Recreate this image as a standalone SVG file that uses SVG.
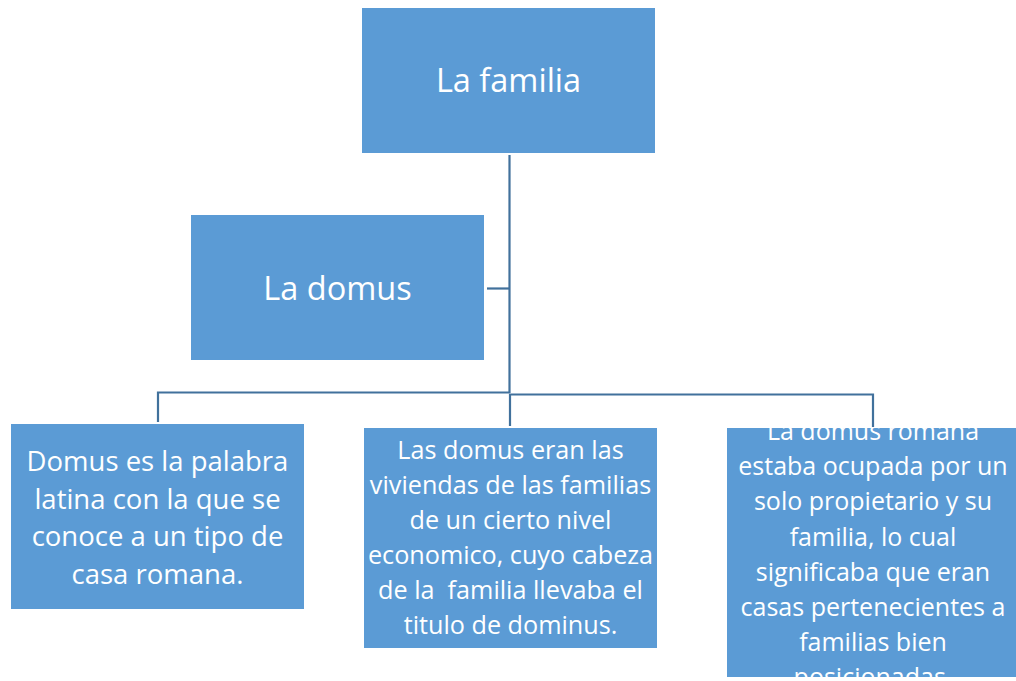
<svg xmlns="http://www.w3.org/2000/svg" width="1016" height="681" viewBox="0 0 1016 681">
<style>
.box{fill:#5B9BD5;}
.t{font-family:"Open Sans","Noto Sans","Liberation Sans",sans-serif;fill:#FFFFFF;text-anchor:middle;}
.big{font-size:32.5px;}
.b1{font-size:27.5px;}
.b2{font-size:25.2px;}
.b3{font-size:25px;}
.c{stroke:#41719C;stroke-width:2.2;fill:none;}
</style>
<defs>
<clipPath id="clip3"><rect x="727" y="428" width="289" height="249"/></clipPath>
</defs>
<rect width="1016" height="681" fill="#FFFFFF"/>
<g id="connectors">
<path class="c" d="M509.5 155 V393"/>
<path class="c" d="M487 288.5 H509.5"/>
<path class="c" d="M158 422 V392.5 H509.5"/>
<path class="c" d="M510 426 V394.5 H873 V427"/>
</g>
<g id="node-familia">
<rect class="box" x="362" y="8" width="293" height="145"/>
<text class="t big" x="508.5" y="92">La familia</text>
</g>
<g id="node-domus">
<rect class="box" x="191" y="215" width="293" height="145"/>
<text class="t big" x="337.5" y="300">La domus</text>
</g>
<g id="node-1">
<rect class="box" x="11" y="424" width="293" height="185"/>
<text class="t b1" x="157.5" y="471">Domus es la palabra</text>
<text class="t b1" x="157.5" y="508.5">latina con la que se</text>
<text class="t b1" x="157.5" y="546">conoce a un tipo de</text>
<text class="t b1" x="157.5" y="583.5">casa romana.</text>
</g>
<g id="node-2">
<rect class="box" x="364" y="428" width="293" height="220"/>
<text class="t b2" x="510.5" y="459">Las domus eran las</text>
<text class="t b2" x="510.5" y="494">viviendas de las familias</text>
<text class="t b2" x="510.5" y="529">de un cierto nivel</text>
<text class="t b2" x="510.5" y="564">economico, cuyo cabeza</text>
<text class="t b2" x="510.5" y="599" xml:space="preserve">de la  familia llevaba el</text>
<text class="t b2" x="510.5" y="634">titulo de dominus.</text>
</g>
<g id="node-3">
<rect class="box" x="727" y="428" width="289" height="249"/>
<g clip-path="url(#clip3)">
<text class="t b3" x="873" y="440">La domus romana</text>
<text class="t b3" x="873" y="475">estaba ocupada por un</text>
<text class="t b3" x="873" y="510">solo propietario y su</text>
<text class="t b3" x="873" y="545.5">familia, lo cual</text>
<text class="t b3" x="873" y="581">significaba que eran</text>
<text class="t b3" x="873" y="616">casas pertenecientes a</text>
<text class="t b3" x="873" y="651">familias bien</text>
<text class="t b3" x="873" y="686">posicionadas.</text>
</g>
</g>
</svg>
